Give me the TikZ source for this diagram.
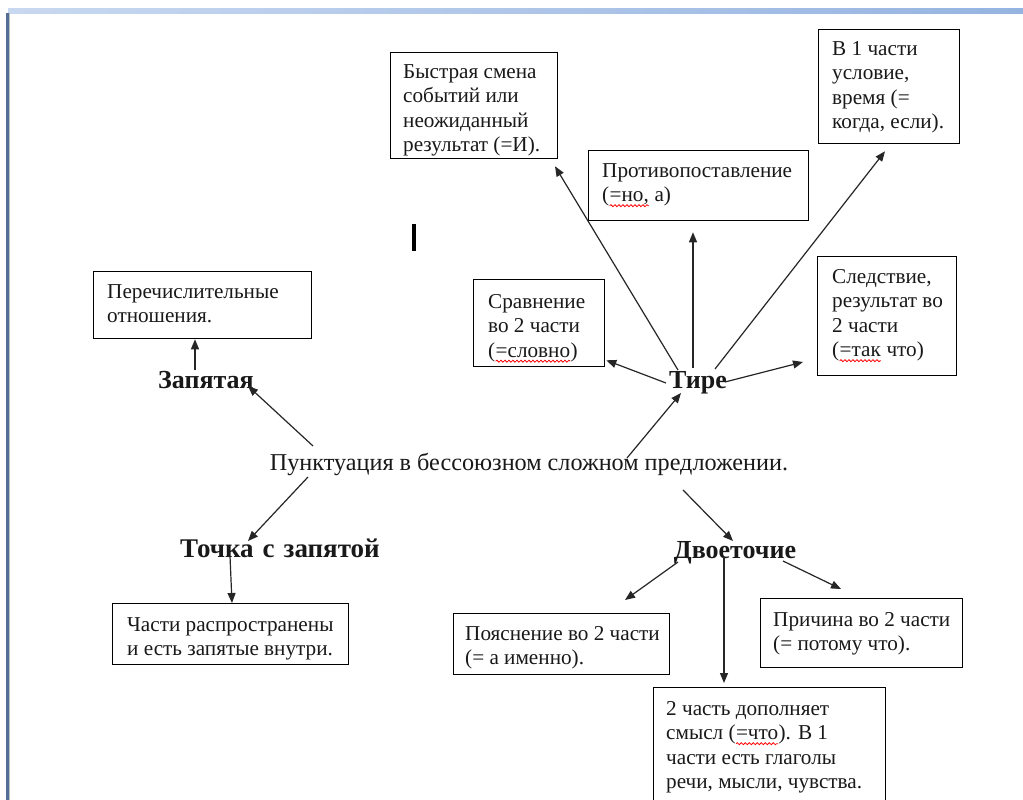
\documentclass[tikz,border=0pt]{standalone}
\usepackage{fontspec}
\setmainfont{Liberation Serif}
\usetikzlibrary{arrows.meta,calc,decorations.pathmorphing}
\newcommand\redwave[1]{\tikz[baseline=(wv.base)]{\node[inner sep=0pt,outer sep=0pt,anchor=base] (wv) {#1};\draw[red, line width=0.8pt, decorate, decoration={snake, segment length=4pt, amplitude=1pt}] ([yshift=-4pt]wv.base west) -- ([yshift=-4pt]wv.base east);}}
\definecolor{barL}{RGB}{200,216,240}
\definecolor{barR}{RGB}{150,180,225}
\definecolor{edge}{RGB}{85,110,150}
\tikzset{
  boxr/.style={draw=black, line width=1.3pt, inner sep=0pt, anchor=north west},
  btext/.style={anchor=north west, inner sep=0pt, align=left, font=\fontsize{21.2}{24.5}\selectfont, text=black!90},
  lbl/.style={anchor=base, inner sep=0pt, font=\fontsize{26}{30}\selectfont\bfseries, text=black!90},
  arr/.style={-{Triangle[length=10pt,width=8pt]}, line width=1.2pt, draw=black!85},
}
\begin{document}
\begin{tikzpicture}[x=1pt,y=-1pt]
\useasboundingbox (0,0) rectangle (1023,800);
\fill[white] (0,0) rectangle (1023,800);
% page decorations
\shade[left color=barL, right color=barR] (8,9) rectangle (1023,14);
\fill[edge] (6,13) rectangle (9,800);
\fill[black!25] (9,13) rectangle (10,800);
% cursor bar
\fill[black] (412,224) rectangle (416,251);

% boxes
\node[boxr, minimum width=167pt, minimum height=106pt] (bys) at (390,52) {};
\node[btext] (bys-t) at ([shift={(13,11)}]bys.north west) {\rule{0pt}{15pt}Быстрая смена\\событий или\\неожиданный\\результат (=И).};

\node[boxr, minimum width=220pt, minimum height=70pt] (prot) at (588,150) {};
\node[btext] (prot-t) at ([shift={(14,12)}]prot.north west) {\rule{0pt}{15pt}Противопоставление\\(\redwave{=но,} а)};

\node[boxr, minimum width=141pt, minimum height=114pt] (v1) at (818,29) {};
\node[btext] (v1-t) at ([shift={(14,11)}]v1.north west) {\rule{0pt}{15pt}В 1 части\\условие,\\время (=\\когда, если).};

\node[boxr, minimum width=139pt, minimum height=119pt] (sled) at (817,256) {};
\node[btext] (sled-t) at ([shift={(15,12)}]sled.north west) {\rule{0pt}{15pt}Следствие,\\результат во\\2 части\\(\redwave{=так} что)};

\node[boxr, minimum width=131pt, minimum height=87pt] (srav) at (473,279) {};
\node[btext] (srav-t) at ([shift={(15,14)}]srav.north west) {\rule{0pt}{15pt}Сравнение\\во 2 части\\(\redwave{=словно})};

\node[boxr, minimum width=218pt, minimum height=67pt] (per) at (93,271) {};
\node[btext] (per-t) at ([shift={(14,12)}]per.north west) {\rule{0pt}{15pt}Перечислительные\\отношения.};

\node[boxr, minimum width=236pt, minimum height=61pt] (chast) at (112,603) {};
\node[btext] (chast-t) at ([shift={(15,13)}]chast.north west) {\rule{0pt}{15pt}Части распространены\\и есть запятые внутри.};

\node[boxr, minimum width=216pt, minimum height=61pt] (poya) at (453,613) {};
\node[btext] (poya-t) at ([shift={(12,12)}]poya.north west) {\rule{0pt}{15pt}Пояснение во 2 части\\(= а именно).};

\node[boxr, minimum width=202pt, minimum height=69pt] (prich) at (760,598) {};
\node[btext] (prich-t) at ([shift={(13,13)}]prich.north west) {\rule{0pt}{15pt}Причина во 2 части\\(= потому что).};

\node[boxr, minimum width=232pt, minimum height=125pt] (dop) at (653,687) {};
\node[btext] (dop-t) at ([shift={(13,13)}]dop.north west) {\rule{0pt}{15pt}2 часть дополняет\\смысл (\redwave{=что}). В 1\\части есть глаголы\\речи, мысли, чувства.};

% labels
\node[anchor=base, inner sep=0pt, font=\fontsize{24.2}{28}\selectfont, text=black!90] (c) at (529,470) {Пунктуация в бессоюзном сложном предложении.};
\node[lbl] (zap) at (206,388) {Запятая};
\node[lbl] (tire) at (698,388) {Тире};
\node[lbl, font=\fontsize{27}{30}\selectfont\bfseries] (tsz) at (280,557) {Точка\hspace{9pt}с\hspace{9pt}запятой};
\node[lbl] (dvo) at (735,558) {Двоеточие};

% arrows
\draw[arr] ([shift={(-216,-24)}]c.base) -- ([shift={(42,-2)}]zap.base);
\draw[arr] ([shift={(-11,-18)}]zap.base) -- ([xshift=102pt]per.south west);
\draw[arr] ([shift={(-221,7)}]c.base) -- ([shift={(-32,-16)}]tsz.base);
\draw[arr] ([shift={(-50,-1)}]tsz.base) -- ([xshift=120pt]chast.north west);
\draw[arr] ([shift={(98,-12)}]c.base) -- ([shift={(-17,5)}]tire.base);
\draw[arr] ([shift={(-20,-18)}]tire.base) -- ([shift={(165,7)}]bys.south west);
\draw[arr] ([shift={(-5,-20)}]tire.base) -- ([shift={(105,11)}]prot.south west);
\draw[arr] ([shift={(17,-19)}]tire.base) -- ([shift={(67,7)}]v1.south west);
\draw[arr] ([shift={(-32,-5)}]tire.base) -- ([shift={(1,-7)}]srav.south east);
\draw[arr] ([shift={(27,-6)}]tire.base) -- ([shift={(-14,106)}]sled.north west);
\draw[arr] ([shift={(154,20)}]c.base) -- ([shift={(-2,-17)}]dvo.base);
\draw[arr] ([shift={(-57,4)}]dvo.base) -- ([shift={(172,-13)}]poya.north west);
\draw[arr] ([shift={(-11,-1)}]dvo.base) -- ([shift={(71,-4)}]dop.north west);
\draw[arr] ([shift={(48,3)}]dvo.base) -- ([shift={(81,-9)}]prich.north west);
\end{tikzpicture}
\end{document}
